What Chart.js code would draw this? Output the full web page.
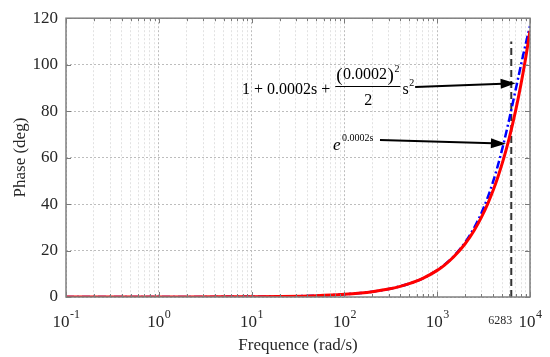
<!DOCTYPE html>
<html>
<head>
<meta charset="utf-8">
<script src="https://cdn.jsdelivr.net/npm/chart.js@4/dist/chart.umd.min.js"></script>
<style>
  html, body { margin: 0; padding: 0; background: #ffffff; }
  #wrap { width: 550px; height: 357px; position: relative; }
</style>
</head>
<body>
<div id="wrap"><canvas id="c" width="550" height="357"></canvas></div>
<script>
// ---- data ----
const freq = [0.1, 0.2, 0.5, 1, 2, 5, 10, 20, 50, 100, 150, 200, 300, 400, 500, 700,
  1000, 1200, 1500, 2000, 2500, 3000, 3500, 4000, 4500, 5000, 5500, 6000, 6500,
  7000, 7500, 8000, 8500, 9000, 9500, 10000];
// phase of e^{0.0002s} (red)
const phaseExp = [0.0011, 0.0023, 0.0057, 0.0115, 0.0229, 0.0573, 0.1146, 0.229, 0.573, 1.146,
  1.719, 2.292, 3.438, 4.584, 5.73, 8.02,
  11.46, 13.75, 17.19, 22.92, 28.65, 34.38, 40.11, 45.84, 51.57, 57.3, 63.03, 68.75, 74.48,
  80.21, 85.94, 91.67, 97.4, 103.13, 108.86, 114.59];
// phase of 1 + 0.0002s + (0.0002)^2/2 s^2 (blue dash-dot)
const phaseTaylor = [0.0011, 0.0023, 0.0057, 0.0115, 0.0229, 0.0573, 0.1146, 0.229, 0.573, 1.146,
  1.719, 2.293, 3.44, 4.588, 5.74, 8.05,
  11.54, 13.88, 17.44, 23.5, 29.74, 36.19, 42.84, 49.64, 56.53, 63.43, 70.25, 76.87, 83.2,
  89.18, 94.76, 99.93, 104.67, 109.01, 112.96, 116.57];
const xDecadeExponents = [-1, 0, 1, 2, 3, 4];
const yTickValues = [0, 20, 40, 60, 80, 100, 120];
const markerFreq = 6283;
const markerLabel = '6283';
const markerTop = 110;
const xTitle = 'Frequence (rad/s)';
const yTitle = 'Phase (deg)';
// arrow tips (data units)
const arrowTaylorTip = { x: 7000, y: 92 };
const arrowExpTip = { x: 5500, y: 66 };

const serif = '"Liberation Serif", "Times New Roman", serif';
const textColor = '#262626';

const xTickValues = [];
for (let e = xDecadeExponents[0]; e < xDecadeExponents[xDecadeExponents.length - 1]; e++) {
  for (let k = 1; k <= 9; k++) xTickValues.push(parseFloat((k * Math.pow(10, e)).toPrecision(6)));
}
xTickValues.push(Math.pow(10, xDecadeExponents[xDecadeExponents.length - 1]));
function isMajor(v) { const l = Math.log10(v); return Math.abs(l - Math.round(l)) < 1e-9; }

const toPts = (ys) => freq.map((f, i) => ({ x: f, y: ys[i] }));

function drawArrow(ctx, x1, y1, x2, y2) {
  const a = Math.atan2(y2 - y1, x2 - x1);
  const L = 15, W = 5;
  ctx.save();
  ctx.strokeStyle = '#000'; ctx.fillStyle = '#000'; ctx.lineWidth = 2;
  ctx.beginPath();
  ctx.moveTo(x1, y1);
  ctx.lineTo(x2 - Math.cos(a) * (L - 2), y2 - Math.sin(a) * (L - 2));
  ctx.stroke();
  ctx.beginPath();
  ctx.moveTo(x2, y2);
  ctx.lineTo(x2 - Math.cos(a) * L - Math.sin(a) * W, y2 - Math.sin(a) * L + Math.cos(a) * W);
  ctx.lineTo(x2 - Math.cos(a) * L + Math.sin(a) * W, y2 - Math.sin(a) * L - Math.cos(a) * W);
  ctx.closePath();
  ctx.fill();
  ctx.restore();
}

const decorPlugin = {
  id: 'decor',
  afterDraw(chart) {
    const ctx = chart.ctx;
    const ca = chart.chartArea;
    const xs = chart.scales.x, ys = chart.scales.y;
    ctx.save();
    // inward tick marks
    ctx.strokeStyle = '#7a7a7a'; ctx.lineWidth = 1;
    xTickValues.forEach(v => {
      const px = Math.round(xs.getPixelForValue(v)) + 0.5;
      const len = isMajor(v) ? 5 : 3;
      ctx.beginPath();
      ctx.moveTo(px, ca.bottom); ctx.lineTo(px, ca.bottom - len);
      ctx.moveTo(px, ca.top); ctx.lineTo(px, ca.top + len);
      ctx.stroke();
    });
    yTickValues.forEach(v => {
      const py = Math.round(ys.getPixelForValue(v)) + 0.5;
      ctx.beginPath();
      ctx.moveTo(ca.left, py); ctx.lineTo(ca.left + 5, py);
      ctx.moveTo(ca.right, py); ctx.lineTo(ca.right - 5, py);
      ctx.stroke();
    });
    // box
    ctx.strokeStyle = '#808080'; ctx.lineWidth = 1.5;
    ctx.strokeRect(ca.left, ca.top, ca.right - ca.left, ca.bottom - ca.top);

    // x tick labels 10^e
    ctx.fillStyle = textColor;
    ctx.textBaseline = 'alphabetic';
    ctx.textAlign = 'left';
    xDecadeExponents.forEach(e => {
      const px = xs.getPixelForValue(Math.pow(10, e));
      ctx.font = '17px ' + serif;
      const wb = ctx.measureText('10').width;
      ctx.font = '12px ' + serif;
      const es = e < 0 ? '-' + Math.abs(e) : String(e);
      const we = ctx.measureText(es).width;
      const x0 = px - (wb + we) / 2;
      ctx.font = '17px ' + serif;
      ctx.fillText('10', x0, 327);
      ctx.font = '12px ' + serif;
      ctx.fillText(es, x0 + wb + 0.5, 318);
    });
    // marker label
    ctx.font = '12px ' + serif;
    ctx.textAlign = 'right';
    ctx.fillText(markerLabel, xs.getPixelForValue(markerFreq) + 1, 324);

    // axis titles
    ctx.textAlign = 'center';
    ctx.font = '17px ' + serif;
    ctx.fillText(xTitle, (ca.left + ca.right) / 2, 350);
    ctx.save();
    ctx.translate(25, (ca.top + ca.bottom) / 2);
    ctx.rotate(-Math.PI / 2);
    ctx.fillText(yTitle, 0, 0);
    ctx.restore();

    // formula 1: 1 + 0.0002s + (0.0002)^2/2 s^2
    ctx.fillStyle = '#000';
    ctx.textAlign = 'left';
    let x = 242;
    const b = 94;
    ctx.font = '16px ' + serif;
    ['1', '+', '0.0002s', '+'].forEach((t, i) => {
      ctx.fillText(t, x, b);
      x += ctx.measureText(t).width + (i === 3 ? 6 : 4);
    });
    const fracStart = x;
    ctx.font = '19px ' + serif;
    ctx.fillText('(', x, 81); x += ctx.measureText('(').width + 0.5;
    ctx.font = '16px ' + serif;
    ctx.fillText('0.0002', x, 79); x += ctx.measureText('0.0002').width + 0.5;
    ctx.font = '19px ' + serif;
    ctx.fillText(')', x, 81); x += ctx.measureText(')').width + 0.5;
    ctx.font = '10px ' + serif;
    ctx.fillText('2', x, 72); x += ctx.measureText('2').width;
    const fracEnd = x + 1;
    ctx.strokeStyle = '#000'; ctx.lineWidth = 1;
    ctx.beginPath();
    ctx.moveTo(fracStart - 1, 86.5); ctx.lineTo(fracEnd, 86.5); ctx.stroke();
    ctx.font = '16px ' + serif;
    ctx.textAlign = 'center';
    ctx.fillText('2', (fracStart + fracEnd) / 2, 105);
    ctx.textAlign = 'left';
    x = fracEnd + 2;
    ctx.fillText('s', x, 94); x += ctx.measureText('s').width + 0.5;
    ctx.font = '10px ' + serif;
    ctx.fillText('2', x, 86); x += ctx.measureText('2').width + 1;
    drawArrow(ctx, x, 87, xs.getPixelForValue(arrowTaylorTip.x), ys.getPixelForValue(arrowTaylorTip.y));

    // formula 2: e^{0.0002s}
    ctx.font = 'italic 17px ' + serif;
    ctx.fillText('e', 333, 150);
    ctx.font = '10px ' + serif;
    ctx.fillText('0.0002s', 342, 141);
    drawArrow(ctx, 380, 140, xs.getPixelForValue(arrowExpTip.x), ys.getPixelForValue(arrowExpTip.y));
    ctx.restore();
  }
};

const bgPlugin = {
  id: 'bg',
  beforeDraw(chart) {
    const ctx = chart.ctx;
    ctx.save();
    ctx.fillStyle = '#ffffff';
    ctx.fillRect(0, 0, chart.width, chart.height);
    ctx.restore();
  }
};

new Chart(document.getElementById('c'), {
  type: 'line',
  data: {
    datasets: [
      {
        label: 'e^{0.0002s}',
        data: toPts(phaseExp),
        borderColor: '#ff0000',
        borderWidth: 3,
        pointRadius: 0,
        cubicInterpolationMode: 'monotone',
        fill: false
      },
      {
        label: 'Taylor',
        data: toPts(phaseTaylor),
        borderColor: '#0000ff',
        borderWidth: 2.5,
        borderDash: [8, 3, 2, 3],
        pointRadius: 0,
        cubicInterpolationMode: 'monotone',
        fill: false
      },
      {
        label: 'marker',
        data: [{ x: markerFreq, y: 0 }, { x: markerFreq, y: markerTop }],
        borderColor: '#333333',
        borderWidth: 2,
        borderDash: [7, 4],
        pointRadius: 0,
        fill: false
      }
    ]
  },
  options: {
    responsive: false,
    animation: false,
    devicePixelRatio: 1,
    layout: { padding: { top: 14, right: 20, left: 0, bottom: 0 } },
    plugins: { legend: { display: false }, tooltip: { enabled: false } },
    scales: {
      x: {
        type: 'logarithmic',
        min: 0.1,
        max: 10000,
        afterBuildTicks(scale) { scale.ticks = xTickValues.map(v => ({ value: v })); },
        afterFit(scale) { scale.height = 60; },
        ticks: { display: false },
        grid: {
          drawTicks: false,
          color: (c) => (c.tick && isMajor(c.tick.value)) ? '#bdbdbd' : '#e2e2e2',
          lineWidth: 1
        },
        border: { display: false, dash: [2, 2] }
      },
      y: {
        min: 0,
        max: 120,
        afterBuildTicks(scale) { scale.ticks = yTickValues.map(v => ({ value: v })); },
        afterFit(scale) { scale.width = 66; },
        ticks: {
          padding: 8,
          color: textColor,
          font: { family: serif, size: 17 }
        },
        grid: { drawTicks: false, color: '#bdbdbd', lineWidth: 1 },
        border: { display: false, dash: [2, 2] }
      }
    }
  },
  plugins: [bgPlugin, decorPlugin]
});
</script>
</body>
</html>
